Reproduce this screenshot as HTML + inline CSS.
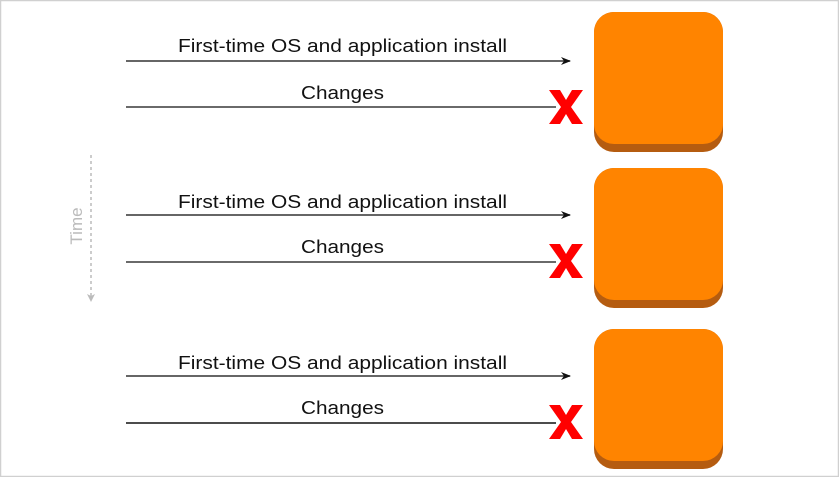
<!DOCTYPE html>
<html><head><meta charset="utf-8"><style>
html,body{margin:0;padding:0;background:#fff;}
svg{display:block;}
text{font-family:"Liberation Sans",sans-serif;}
</style></head><body>
<svg width="839" height="477" viewBox="0 0 839 477" xmlns="http://www.w3.org/2000/svg">
<defs>
<marker id="ar" markerWidth="10" markerHeight="8" refX="9" refY="4" orient="auto" markerUnits="userSpaceOnUse">
<path d="M0,0 L10,4 L0,8 L3,4 Z" fill="#111"/>
</marker>
<g id="box">
<rect x="594" y="12" width="129" height="140" rx="20" fill="#b55c10"/>
<rect x="594" y="12" width="129" height="132" rx="20" fill="#ff8400"/>
</g>
<g id="x">
<path d="M549,90 L560,90 L566,100 L572,90 L583,90 L571,107 L583,124 L572,124 L566,114 L560,124 L549,124 L561,107 Z" fill="#f00"/>
</g>
</defs>
<rect x="0.5" y="0.5" width="838" height="476" fill="none" stroke="#d0d0d0" stroke-width="1.5"/>

<line x1="91" y1="155" x2="91" y2="296" stroke="#bbb" stroke-width="1.5" stroke-dasharray="3,3"/>
<path d="M87,294 L91,302 L95,294 L91,296 Z" fill="#bbb"/>
<text transform="translate(82,226) rotate(-90)" font-size="17" fill="#bbb" text-anchor="middle">Time</text>

<g>
<use href="#box"/>
<text x="178" y="52" font-size="18" fill="#111" textLength="329" lengthAdjust="spacingAndGlyphs">First-time OS and application install</text>
<line x1="126" y1="61" x2="570" y2="61" stroke="#333" stroke-width="1.5" marker-end="url(#ar)"/>
<text x="301" y="99" font-size="18" fill="#111" textLength="83" lengthAdjust="spacingAndGlyphs">Changes</text>
<line x1="126" y1="107" x2="556" y2="107" stroke="#111" stroke-width="1.3"/>
<use href="#x"/>
</g>
<g transform="translate(0,156)">
<use href="#box"/>
<text x="178" y="52" font-size="18" fill="#111" textLength="329" lengthAdjust="spacingAndGlyphs">First-time OS and application install</text>
<line x1="126" y1="59" x2="570" y2="59" stroke="#333" stroke-width="1.5" marker-end="url(#ar)"/>
<text x="301" y="97" font-size="18" fill="#111" textLength="83" lengthAdjust="spacingAndGlyphs">Changes</text>
<line x1="126" y1="106" x2="556" y2="106" stroke="#111" stroke-width="1.3"/>
<use href="#x" transform="translate(0,-2)"/>
</g>
<g transform="translate(0,317)">
<use href="#box"/>
<text x="178" y="52" font-size="18" fill="#111" textLength="329" lengthAdjust="spacingAndGlyphs">First-time OS and application install</text>
<line x1="126" y1="59" x2="570" y2="59" stroke="#333" stroke-width="1.5" marker-end="url(#ar)"/>
<text x="301" y="97" font-size="18" fill="#111" textLength="83" lengthAdjust="spacingAndGlyphs">Changes</text>
<line x1="126" y1="106" x2="556" y2="106" stroke="#111" stroke-width="1.5"/>
<use href="#x" transform="translate(0,-2)"/>
</g>
</svg>
</body></html>
